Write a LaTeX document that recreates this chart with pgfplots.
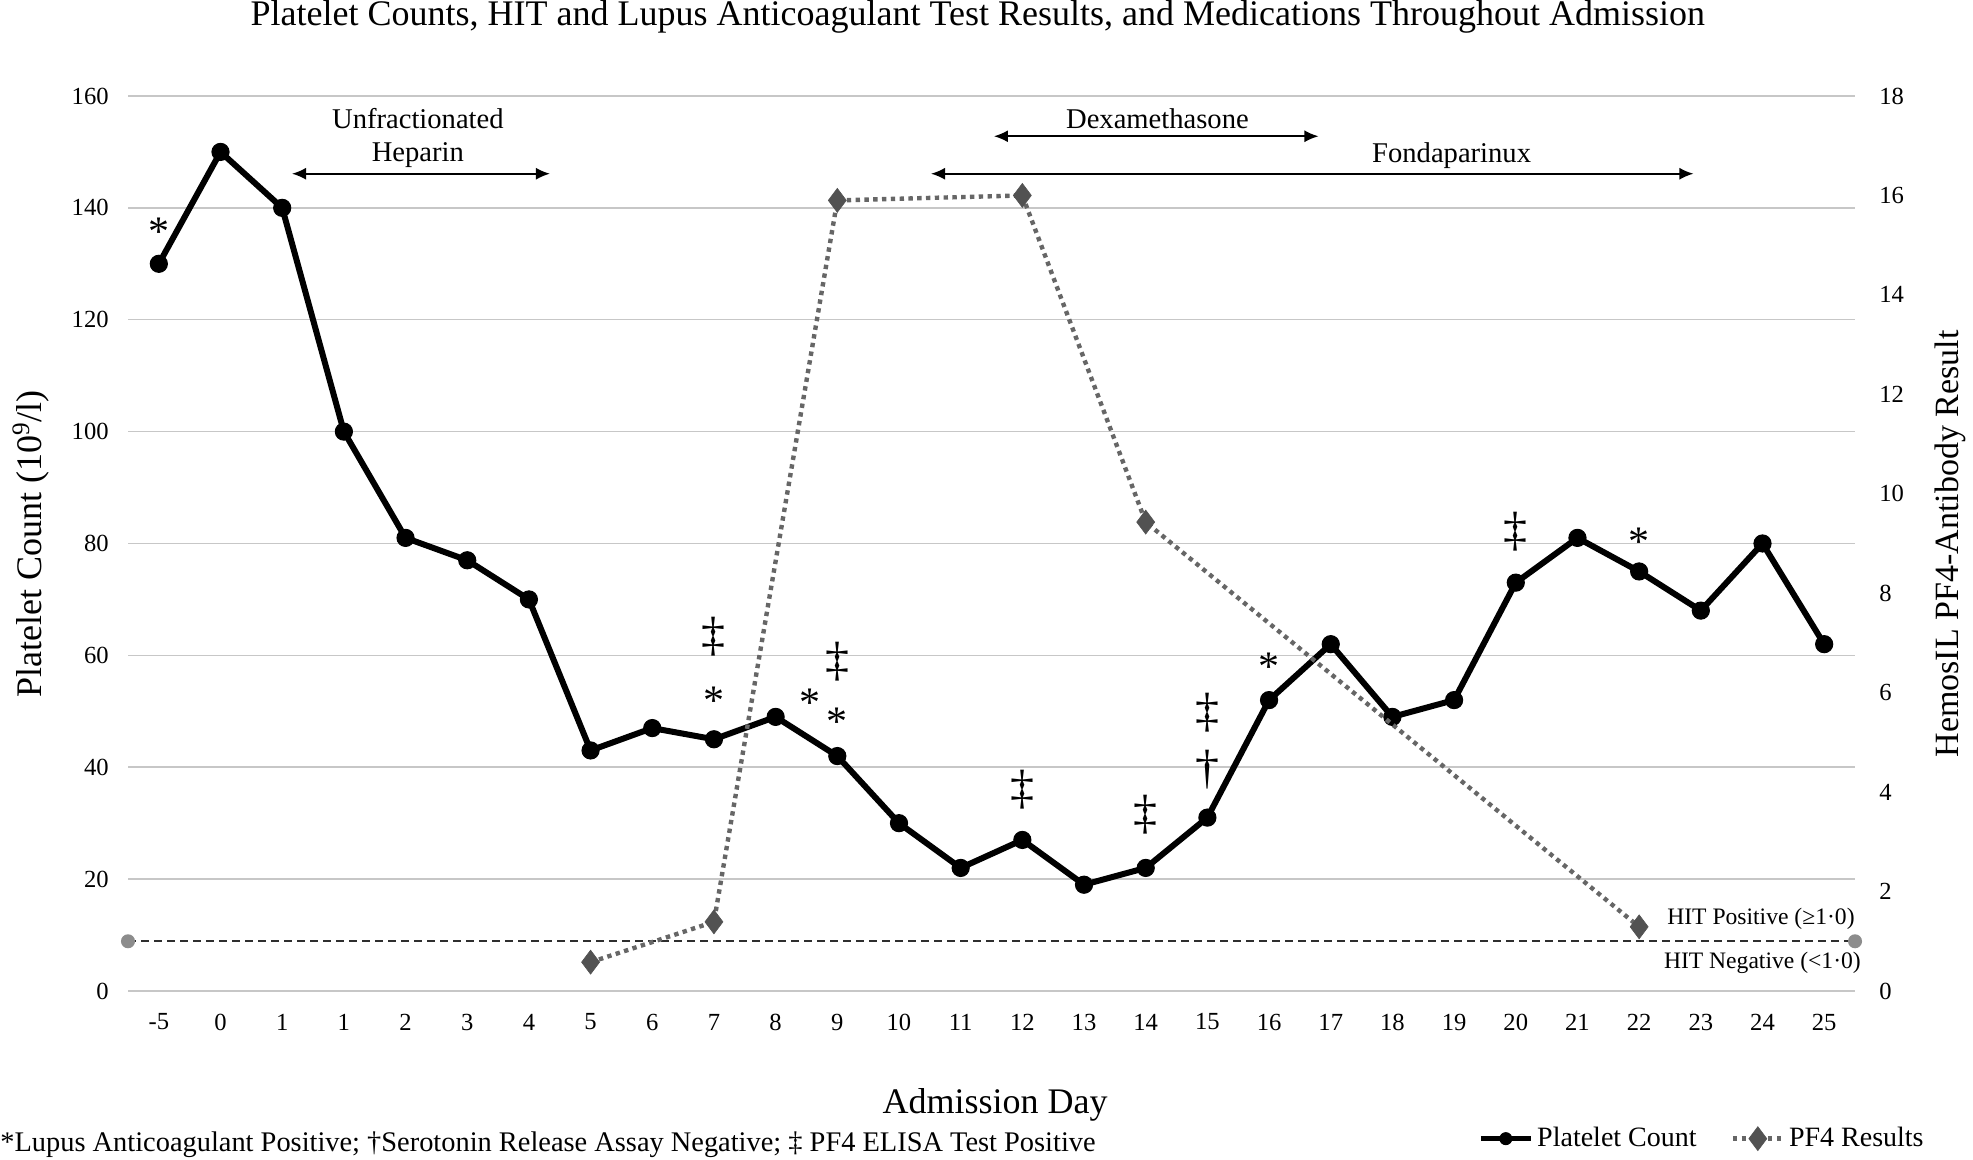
\documentclass[border=0pt]{standalone}
\usepackage{fontspec}
\setmainfont{Liberation Serif}
\usepackage{pgfplots}
\pgfplotsset{compat=1.18}
\usetikzlibrary{arrows.meta}
\tikzset{
 ann/.style={font=\fontsize{24}{24}\selectfont, inner sep=0pt},
 star/.style={font=\fontsize{21}{21}\selectfont, inner sep=0pt, yshift=-4.2pt},
 med/.style={font=\fontsize{14.3}{16}\selectfont, inner sep=0pt},
 medarrow/.style={{Latex[length=7pt,width=6pt]}-{Latex[length=7pt,width=6pt]}, line width=0.8pt}
}
\begin{document}
\begin{tikzpicture}[x=1pt,y=1pt]
\path[use as bounding box] (0,0) rectangle (986.5,580);
\pgfplotsset{
 common/.style={width=863.5pt, height=447.5pt, scale only axis,
   at={(64pt,84.5pt)}, anchor=south west,
   xmin=-0.5, xmax=27.5, axis line style={draw=none},
   major tick length=0pt,
   /pgf/number format/assume math mode=true,
   tick label style={font=\fontsize{12.3}{14}\selectfont},
   clip=false},
 legend image code/.code={\draw[mark repeat=2,mark phase=2,#1] plot coordinates {(0pt,0pt)(12.5pt,0pt)(25pt,0pt)};}
}
\begin{axis}[common, ymin=0, ymax=160, ytick={0,20,...,160},
  ymajorgrids, major grid style={draw=black!22, line width=0.75pt},
  xtick={0,...,27},
  xticklabels={-5,0,1,1,2,3,4,5,6,7,8,9,10,11,12,13,14,15,16,17,18,19,20,21,22,23,24,25},
  xticklabel style={anchor=center, inner sep=0pt, yshift=-15.5pt},
  yticklabel style={anchor=east, inner sep=0pt, xshift=-9.5pt}]
\addplot[black, line width=3pt, mark=*, mark size=4.3pt, mark options={solid, fill=black, line width=0.5pt}] coordinates {
(0,130)(1,150)(2,140)(3,100)(4,81)(5,77)(6,70)(7,43)(8,47)(9,45)(10,49)(11,42)(12,30)(13,22)(14,27)(15,19)(16,22)(17,31)(18,52)(19,62)(20,49)(21,52)(22,73)(23,81)(24,75)(25,68)(26,80)(27,62)};
% annotations
\node[star] at (axis cs:0,137.3) {*};
\node[ann] at (axis cs:9,63.4) {‡};
\node[star] at (axis cs:9,53.4) {*};
\node[star] at (axis cs:10.56,53.0) {*};
\node[ann] at (axis cs:11,58.9) {‡};
\node[star] at (axis cs:11,49.6) {*};
\node[ann] at (axis cs:14,36.0) {‡};
\node[ann] at (axis cs:16,31.5) {‡};
\node[ann] at (axis cs:17,49.8) {‡};
\node[ann] at (axis cs:17,39.5) {†};
\node[star] at (axis cs:18,59.5) {*};
\node[ann] at (axis cs:22,82.2) {‡};
\node[star] at (axis cs:24,81.8) {*};
% medications
\node[med] at (axis cs:4.2,155.9) {Unfractionated};
\node[med] at (axis cs:4.2,149.4) {Heparin};
\draw[medarrow] (axis cs:2.16,146.1) -- (axis cs:6.34,146.1);
\node[med] at (axis cs:16.19,155.9) {Dexamethasone};
\draw[medarrow] (axis cs:13.54,152.8) -- (axis cs:18.8,152.8);
\node[med] at (axis cs:20.96,149.4) {Fondaparinux};
\draw[medarrow] (axis cs:12.52,146.1) -- (axis cs:24.88,146.1);
\end{axis}
\begin{axis}[common, ymin=0, ymax=18, ytick={0,2,...,18}, xtick=\empty,
  yticklabel pos=right,
  yticklabel style={anchor=west, inner sep=0pt, xshift=12pt},
  legend style={at={(0.912,-0.165)}, anchor=center, draw=none, fill=none,
    legend columns=2, font=\fontsize{14}{16}\selectfont,
    /tikz/every even column/.append style={column sep=15pt}},
  legend cell align=left]
\addlegendimage{black, line width=2.4pt, mark=*, mark size=3pt, mark options={solid, fill=black, line width=0.5pt}}
\addlegendentry{Platelet Count}
\addplot[forget plot, black!82, line width=1pt, dash pattern=on 4pt off 2.5pt, mark=*, mark size=3pt, mark options={solid, fill=black!45, draw=black!45}] coordinates {(-0.5,1)(27.5,1)};
\addplot[color=black!60, line width=2.2pt, dash pattern=on 2.2pt off 2.2pt, mark=diamond*, mark size=6pt, mark options={solid, fill=black!68, draw=black!68, line width=0.3pt}] coordinates {(7,0.58)(9,1.39)(11,15.9)(14,16.0)(16,9.43)(24,1.29)};
\addlegendentry{PF4 Results}
\node[anchor=east, inner sep=0pt, font=\fontsize{11.8}{13}\selectfont] at (axis cs:27.5,1.46) {HIT Positive (≥1·0)};
\node[anchor=east, inner sep=0pt, font=\fontsize{11.8}{13}\selectfont] at (axis cs:27.6,0.57) {HIT Negative (<1·0)};
\end{axis}
\node[font=\fontsize{18}{20}\selectfont] at (488.9,571.5) {Platelet Counts, HIT and Lupus Anticoagulant Test Results, and Medications Throughout Admission};
\node[rotate=90, font=\fontsize{18}{20}\selectfont] at (15.5,308) {Platelet Count (10\textsuperscript{9}/l)};
\node[rotate=90, font=\fontsize{17}{20}\selectfont] at (975,308) {HemosIL PF4-Antibody Result};
\node[font=\fontsize{18}{20}\selectfont] at (497.5,27.5) {Admission Day};
\node[anchor=west, inner sep=0pt, font=\fontsize{14.2}{16}\selectfont] at (0,7.5) {*Lupus Anticoagulant Positive; †Serotonin Release Assay Negative; ‡ PF4 ELISA Test Positive};
\end{tikzpicture}
\end{document}
